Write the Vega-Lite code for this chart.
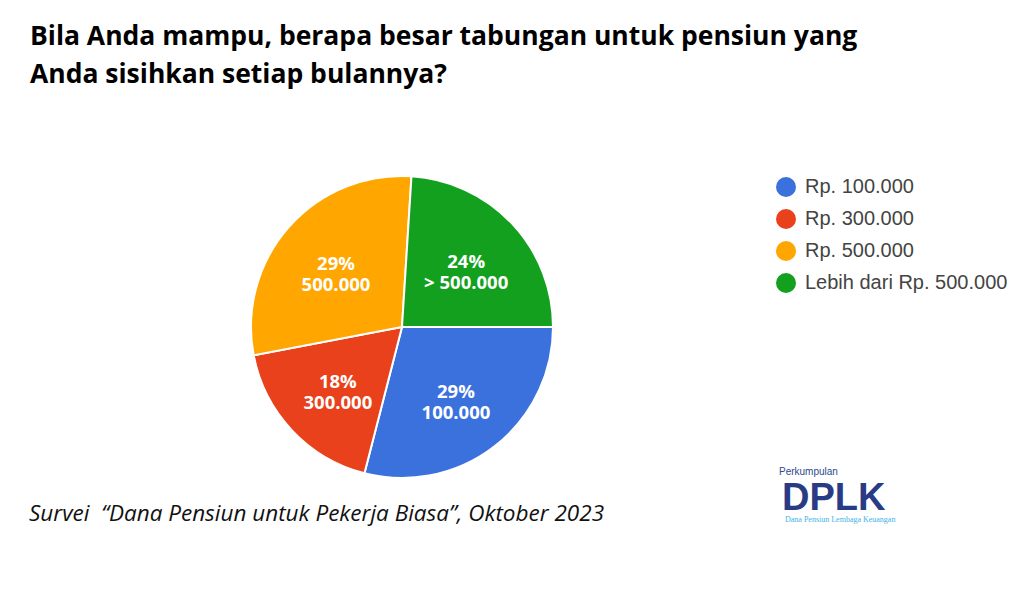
{
  "$schema": "https://vega.github.io/schema/vega-lite/v6.json",
  "width": 744,
  "height": 434,
  "autosize": "none",
  "padding": {"left": 30, "top": 110, "right": 254, "bottom": 47},
  "background": "white",
  "config": {"view": {"stroke": null}},
  "title": {
    "text": ["Bila Anda mampu, berapa besar tabungan untuk pensiun yang", "Anda sisihkan setiap bulannya?"],
    "anchor": "start",
    "frame": "group",
    "font": "Open Sans",
    "fontSize": 26.5,
    "fontWeight": "bold",
    "color": "#000000",
    "lineHeight": 38,
    "offset": 22
  },
  "datasets": {
    "slices": [
      {"no": 1, "cat": "Rp. 100.000", "pct": 29, "label": "29%\n100.000"},
      {"no": 2, "cat": "Rp. 300.000", "pct": 18, "label": "18%\n300.000"},
      {"no": 3, "cat": "Rp. 500.000", "pct": 29, "label": "29%\n500.000"},
      {"no": 4, "cat": "Lebih dari Rp. 500.000", "pct": 24, "label": "24%\n> 500.000"}
    ]
  },
  "layer": [
    {
      "data": {"name": "slices"},
      "mark": {"type": "arc", "outerRadius": 151, "stroke": "white", "strokeWidth": 2},
      "encoding": {
        "theta": {"field": "pct", "type": "quantitative", "stack": true, "scale": {"range": [1.5708, 7.854]}},
        "order": {"field": "no", "type": "quantitative"},
        "color": {
          "field": "cat",
          "type": "nominal",
          "scale": {
            "domain": ["Rp. 100.000", "Rp. 300.000", "Rp. 500.000", "Lebih dari Rp. 500.000"],
            "range": ["#3b71dc", "#e8411b", "#ffa600", "#14a01f"]
          },
          "legend": {
            "orient": "none",
            "legendX": 746,
            "legendY": 67,
            "title": null,
            "symbolType": "circle",
            "symbolSize": 400,
            "symbolStrokeWidth": 0,
            "labelFont": "Liberation Sans",
            "labelFontSize": 20,
            "labelColor": "#444444",
            "rowPadding": 12,
            "labelOffset": 9,
            "padding": 0,
            "labelLimit": 400
          }
        }
      }
    },
    {
      "data": {"name": "slices"},
      "mark": {"type": "text", "radius": 88, "dy": -5, "font": "Open Sans", "fontWeight": "bold", "fontSize": 18.5, "lineBreak": "\n", "lineHeight": 21, "color": "white", "baseline": "middle"},
      "encoding": {
        "theta": {"field": "pct", "type": "quantitative", "stack": true, "scale": {"range": [1.5708, 7.854]}},
        "order": {"field": "no", "type": "quantitative"},
        "text": {"field": "label"}
      }
    },
    {
      "data": {"values": [{"t": "Survei \u00a0“Dana Pensiun untuk Pekerja Biasa”, Oktober 2023"}]},
      "mark": {"type": "text", "font": "Open Sans", "fontStyle": "italic", "fontSize": 22.5, "align": "left", "baseline": "alphabetic", "color": "#111111"},
      "encoding": {"text": {"field": "t"}, "x": {"value": -1}, "y": {"value": 411}}
    },
    {
      "data": {"values": [{"t": "Perkumpulan"}]},
      "mark": {"type": "text", "font": "Liberation Sans", "fontSize": 10, "align": "left", "baseline": "alphabetic", "color": "#2b4a8e"},
      "encoding": {"text": {"field": "t"}, "x": {"value": 749}, "y": {"value": 365}}
    },
    {
      "data": {"values": [{"t": "DPLK"}]},
      "mark": {"type": "text", "font": "Liberation Sans", "fontWeight": "bold", "fontSize": 38, "align": "left", "baseline": "alphabetic", "color": "#2a3b86"},
      "encoding": {"text": {"field": "t"}, "x": {"value": 752}, "y": {"value": 400}}
    },
    {
      "data": {"values": [{"t": "Dana Pensiun Lembaga Keuangan"}]},
      "mark": {"type": "text", "font": "Liberation Serif", "fontSize": 8, "align": "left", "baseline": "alphabetic", "color": "#3fb4e6"},
      "encoding": {"text": {"field": "t"}, "x": {"value": 755}, "y": {"value": 412}}
    }
  ]
}
